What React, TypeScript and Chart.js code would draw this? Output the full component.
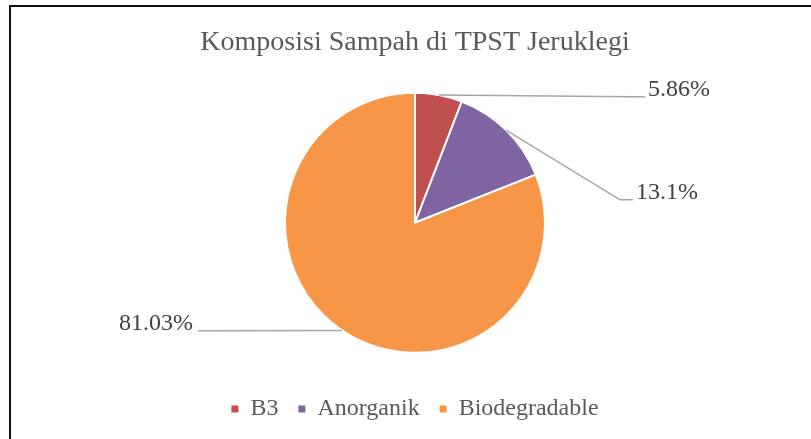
import React, { useEffect, useRef } from "react";
import { Chart, registerables } from "chart.js";

Chart.register(...registerables);

const categories = ["B3", "Anorganik", "Biodegradable"];
const values = [5.86, 13.1, 81.03];
const valueLabels = ["5.86%", "13.1%", "81.03%"];
const colors = ["#C0504D", "#8064A2", "#F79646"];

const FONT = "'Liberation Serif', 'Times New Roman', serif";

// label anchor points relative to pie centre, in units of the radius
const labelAnchors = [
  { dx: 1.77, dy: -0.97, side: "right" },
  { dx: 1.677, dy: -0.177, side: "right" },
  { dx: -1.669, dy: 0.831, side: "left" },
];

const framePlugin = {
  id: "frame",
  beforeDraw(chart: any) {
    const ctx = chart.ctx;
    ctx.save();
    ctx.strokeStyle = "#111111";
    ctx.lineWidth = 2;
    ctx.strokeRect(10, 6, chart.width + 10, chart.height + 10);
    ctx.restore();
  },
};

const leaderLabelPlugin = {
  id: "leaderLabels",
  afterDraw(chart: any) {
    const ctx = chart.ctx;
    const meta = chart.getDatasetMeta(0);
    ctx.save();
    meta.data.forEach((arc: any, i: number) => {
      const { x, y, startAngle, endAngle, outerRadius } = arc.getProps(
        ["x", "y", "startAngle", "endAngle", "outerRadius"],
        true
      );
      const mid = (startAngle + endAngle) / 2;
      const ex = x + Math.cos(mid) * outerRadius;
      const ey = y + Math.sin(mid) * outerRadius;
      const a = labelAnchors[i];
      const ax = x + a.dx * outerRadius;
      const ay = y + a.dy * outerRadius;
      const elbowX = a.side === "right" ? ax - 13 : ax + 13;
      ctx.strokeStyle = "#A6A6A6";
      ctx.lineWidth = 1.5;
      ctx.beginPath();
      ctx.moveTo(ex, ey);
      ctx.lineTo(elbowX, ay);
      ctx.lineTo(ax, ay);
      ctx.stroke();
      ctx.fillStyle = "#404040";
      ctx.font = `24px ${FONT}`;
      ctx.textBaseline = "middle";
      ctx.textAlign = a.side === "right" ? "left" : "right";
      const tx = a.side === "right" ? ax + 3 : ax - 5;
      ctx.fillText(valueLabels[i], tx, ay - 7);
    });
    ctx.restore();
  },
};

export default function App() {
  const canvasRef = useRef<HTMLCanvasElement | null>(null);

  useEffect(() => {
    document.body.style.margin = "0";
    const canvas = canvasRef.current;
    if (!canvas) return;
    const chart = new Chart(canvas, {
      type: "pie",
      data: {
        labels: categories,
        datasets: [
          {
            data: values,
            backgroundColor: colors,
            borderColor: "#FFFFFF",
            borderWidth: 2,
          },
        ],
      },
      options: {
        responsive: false,
        animation: false,
        radius: 130,
        layout: { padding: { left: 19, bottom: 8 } },
        plugins: {
          title: {
            display: true,
            text: "Komposisi Sampah di TPST Jeruklegi",
            color: "#595959",
            font: { family: FONT, size: 28, weight: "normal" },
            padding: { top: 26, bottom: 9 },
          },
          legend: {
            position: "bottom",
            labels: {
              color: "#595959",
              font: { family: FONT, size: 24 },
              boxWidth: 7,
              boxHeight: 7,
              padding: 20,
              generateLabels(ch: any) {
                const items = Chart.overrides.pie.plugins.legend.labels.generateLabels(ch);
                return items.map((it: any) => ({ ...it, lineWidth: 0, strokeStyle: it.fillStyle }));
              },
            },
          },
          tooltip: { enabled: false },
        },
      } as any,
      plugins: [framePlugin, leaderLabelPlugin],
    });
    return () => chart.destroy();
  }, []);

  return (
    <div style={{ width: 811, height: 439 }}>
      <canvas ref={canvasRef} width={811} height={439} style={{ display: "block" }} />
    </div>
  );
}
